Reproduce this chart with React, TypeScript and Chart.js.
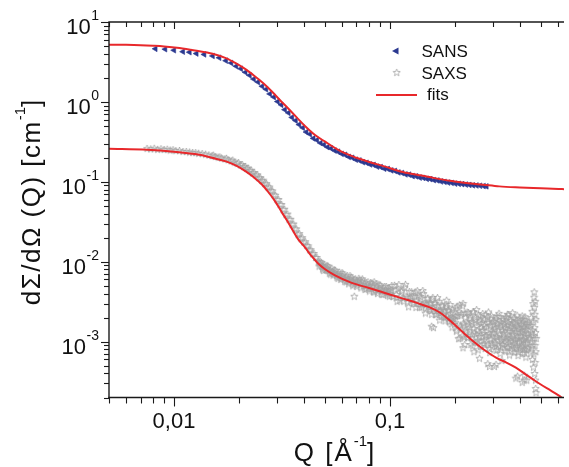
import React, { useEffect, useRef } from 'react';
import { Chart, registerables } from 'chart.js';
Chart.register(...registerables);

// ---------- data ----------
const sansQ = [0.0082,0.0091,0.0100,0.0110,0.0118,0.0127,0.0138,0.0151,0.0162,0.0174,0.0184,0.0194,0.0204,0.0214,0.0224,0.0234,0.0245,0.0256,0.0267,0.0278,0.0290,0.0302,0.0314,0.0326,0.0339,0.0352,0.0366,0.0380,0.0395,0.0410,0.0426,0.0442,0.0459,0.0477,0.0495,0.0514,0.0534,0.0555,0.0576,0.0598,0.0621,0.0645,0.0670,0.0696,0.0723,0.0751,0.0780,0.0810,0.0841,0.0873,0.0907,0.0942,0.0978,0.1016,0.1055,0.1096,0.1138,0.1182,0.1227,0.1275,0.1324,0.1375,0.1428,0.1483,0.1540,0.1600,0.1661,0.1725,0.1792,0.1861,0.1933,0.2007,0.2085,0.2165,0.2249,0.2335,0.2425,0.2519,0.2616,0.2717,0.2800];
const sansI = [4.62,4.57,4.43,4.25,4.19,4.03,3.93,3.76,3.57,3.28,3.07,2.80,2.60,2.35,2.15,1.93,1.77,1.57,1.44,1.26,1.15,1.01,0.92,0.80,0.73,0.64,0.585,0.52,0.475,0.42,0.395,0.35,0.333,0.306,0.292,0.272,0.262,0.246,0.238,0.224,0.218,0.205,0.200,0.189,0.185,0.176,0.173,0.165,0.163,0.155,0.153,0.146,0.145,0.139,0.137,0.131,0.129,0.124,0.123,0.118,0.117,0.113,0.112,0.109,0.108,0.105,0.104,0.101,0.100,0.098,0.097,0.095,0.0945,0.0935,0.0925,0.0915,0.0905,0.090,0.0893,0.0885,0.0878];

const sansFitQ = [0.005,0.006,0.007,0.008,0.009,0.0106,0.0125,0.0151,0.0175,0.0193,0.0215,0.0238,0.026,0.0284,0.031,0.0339,0.037,0.0404,0.045,0.0499,0.0594,0.07,0.0787,0.095,0.112,0.135,0.159,0.19,0.226,0.27,0.321,0.4,0.5,0.604,0.64];
const sansFitI = [5.2,5.18,5.13,5.05,4.95,4.72,4.4,4.0,3.5,3.05,2.55,2.07,1.7,1.35,1.05,0.82,0.64,0.5,0.385,0.32,0.24,0.2,0.18,0.155,0.135,0.122,0.112,0.103,0.0966,0.092,0.0877,0.085,0.083,0.0813,0.081];

const saxsFitQ = [0.005,0.0075,0.01,0.0131,0.015,0.0174,0.0195,0.0215,0.0235,0.0256,0.0275,0.0294,0.0315,0.0339,0.0357,0.0377,0.0405,0.0433,0.0465,0.0499,0.0554,0.0661,0.08,0.094,0.113,0.133,0.152,0.171,0.187,0.203,0.222,0.243,0.275,0.31,0.345,0.383,0.425,0.472,0.535,0.604,0.64];
const saxsFitI = [0.259,0.252,0.238,0.218,0.2,0.18,0.158,0.135,0.113,0.092,0.073,0.057,0.042,0.0306,0.024,0.0189,0.015,0.0118,0.0095,0.0081,0.0068,0.00548,0.0047,0.0041,0.0035,0.00306,0.0027,0.0023,0.0019,0.00156,0.00125,0.00101,0.00078,0.00063,0.00055,0.000473,0.00039,0.000322,0.00026,0.000213,0.00019];

const saxsLowQ = [0.0075,0.0078,0.0081,0.0084,0.0087,0.0090,0.0093,0.0096,0.0099,0.0102,0.0106,0.0110,0.0114,0.0118,0.0122,0.0126,0.0130,0.0135,0.0140,0.0145,0.0150,0.0155,0.0160,0.0166,0.0172,0.0178,0.0184,0.0190,0.0196,0.0203,0.0210,0.0217,0.0224,0.0231,0.0239,0.0247,0.0255,0.0263,0.0272,0.0281,0.0290,0.0300,0.0310,0.0320,0.0330,0.0341,0.0352,0.0363,0.0375,0.0387,0.0399,0.0412,0.0425,0.0438,0.0452,0.0466];
const saxsLowI = [0.262,0.258,0.263,0.255,0.259,0.254,0.256,0.250,0.252,0.246,0.247,0.240,0.240,0.236,0.233,0.232,0.228,0.226,0.222,0.217,0.213,0.208,0.204,0.199,0.194,0.189,0.183,0.177,0.171,0.163,0.155,0.147,0.139,0.130,0.122,0.113,0.104,0.096,0.087,0.078,0.069,0.060,0.052,0.045,0.039,0.034,0.0295,0.0258,0.0222,0.0198,0.0177,0.0160,0.0141,0.0126,0.0113,0.0101];

const saxsLow2Q = [0.0152,0.0163,0.0175,0.0187,0.0199,0.0207,0.0214,0.0220,0.0228,0.0235,0.0243,0.0251,0.0259,0.0268,0.0277,0.0286,0.0295,0.0305,0.0315,0.0325,0.0336,0.0347,0.0358,0.0369,0.0381,0.0393,0.0406,0.0418,0.0431,0.0445,0.0459];
const saxsLow2I = [0.216,0.205,0.197,0.187,0.174,0.165,0.156,0.149,0.140,0.131,0.123,0.113,0.105,0.095,0.086,0.077,0.068,0.060,0.052,0.0455,0.0395,0.0340,0.0297,0.0258,0.0225,0.0200,0.0178,0.0158,0.0141,0.0127,0.0113];

const saxsMidQ = [0.0472,0.0475,0.0478,0.0484,0.0490,0.0493,0.0496,0.0502,0.0508,0.0511,0.0514,0.0521,0.0528,0.0531,0.0535,0.0542,0.0549,0.0552,0.0556,0.0564,0.0572,0.0575,0.0580,0.0588,0.0596,0.0600,0.0604,0.0613,0.0622,0.0626,0.0631,0.0640,0.0649,0.0653,0.0658,0.0668,0.0678,0.0681,0.0684,0.0688,0.0698,0.0708,0.0711,0.0718,0.0729,0.0740,0.0745,0.0751,0.0762,0.0773,0.0778,0.0785,0.0797,0.0809,0.0815,0.0821,0.0833,0.0845,0.0850,0.0858,0.0871,0.0884,0.0890,0.0897,0.0911,0.0925,0.0930,0.0939,0.0953,0.0962,0.0968,0.0983,0.0993,0.0998];
const saxsMidI = [0.0096,0.0101,0.0093,0.0088,0.0089,0.0078,0.0084,0.0086,0.0080,0.0090,0.0083,0.0077,0.0079,0.0070,0.0074,0.0076,0.0071,0.0079,0.0073,0.0068,0.0070,0.0062,0.0066,0.0069,0.0063,0.0073,0.0066,0.0061,0.0064,0.0056,0.0059,0.0062,0.0057,0.0067,0.0061,0.0056,0.0059,0.0052,0.0037,0.0054,0.0058,0.0053,0.0057,0.0062,0.0052,0.0056,0.0061,0.0050,0.0054,0.0049,0.0046,0.0052,0.0047,0.0051,0.0055,0.0046,0.0050,0.0056,0.0042,0.0045,0.0049,0.0044,0.0052,0.0047,0.0043,0.0046,0.0039,0.0042,0.0045,0.0049,0.0041,0.0044,0.0037,0.0040];

const saxsMid2Q = [0.0470,0.0481,0.0487,0.0499,0.0505,0.0517,0.0524,0.0538,0.0545,0.0560,0.0568,0.0584,0.0592,0.0609,0.0617,0.0635,0.0644,0.0663,0.0673,0.0693,0.0703,0.0724,0.0734,0.0756,0.0767,0.0791,0.0803,0.0827,0.0839,0.0864,0.0877,0.0904,0.0918,0.0946,0.0975,0.0990];
const saxsMid2I = [0.0088,0.0098,0.0081,0.0092,0.0079,0.0088,0.0072,0.0083,0.0068,0.0078,0.0064,0.0074,0.0060,0.0070,0.0057,0.0067,0.0053,0.0064,0.0050,0.0061,0.0049,0.0059,0.0047,0.0058,0.0045,0.0056,0.0043,0.0054,0.0042,0.0053,0.0040,0.0051,0.0039,0.0049,0.0038,0.0047];

const saxsBandQ = [0.100,0.102,0.104,0.106,0.108,0.110,0.112,0.114,0.116,0.118,0.120,0.122,0.124,0.126,0.128,0.130,0.132,0.134,0.136,0.138,0.140,0.142,0.144,0.146,0.148,0.150,0.152,0.154,0.156,0.158,0.160,0.162,0.164,0.166,0.168,0.170,0.172,0.174,0.176,0.178,0.180,0.182,0.184,0.186,0.188,0.190,0.192,0.194,0.196,0.198];
const saxsBandI = [0.0043,0.00505,0.00368,0.00444,0.0032,0.00519,0.00365,0.00441,0.0032,0.00521,0.00359,0.00273,0.00359,0.00421,0.00307,0.00372,0.00268,0.00434,0.00306,0.00369,0.00269,0.00436,0.003,0.00228,0.00299,0.0035,0.00254,0.00307,0.0022,0.00358,0.00251,0.00302,0.00219,0.00356,0.00244,0.00186,0.00244,0.00286,0.00208,0.00251,0.00182,0.00294,0.00206,0.00249,0.0018,0.00292,0.002,0.00152,0.00198,0.00236];

const saxsBand2Q = [0.101,0.103,0.105,0.107,0.109,0.111,0.113,0.115,0.117,0.119,0.121,0.123,0.125,0.127,0.129,0.131,0.133,0.135,0.137,0.139,0.141,0.143,0.145,0.147,0.149,0.151,0.153,0.155,0.157,0.159,0.161,0.163,0.165,0.167,0.169,0.171,0.173,0.175,0.177,0.179,0.181,0.183,0.185,0.187,0.189,0.191,0.193,0.195,0.197,0.199];
const saxsBand2I = [0.00446,0.00368,0.00507,0.0039,0.00456,0.00328,0.00425,0.00353,0.00483,0.00372,0.00314,0.00424,0.00334,0.00368,0.00303,0.00419,0.00322,0.00377,0.00271,0.00351,0.00291,0.00399,0.00307,0.00258,0.00348,0.00274,0.003,0.00246,0.00339,0.00261,0.00304,0.00218,0.00282,0.00233,0.0032,0.00246,0.00207,0.00279,0.00219,0.00241,0.00199,0.00274,0.0021,0.00245,0.00176,0.00227,0.00187,0.00256,0.00196,0.00164];

const saxsCloudQ = [0.200,0.202,0.204,0.206,0.208,0.210,0.212,0.214,0.216,0.218,0.220,0.222,0.224,0.226,0.228,0.230,0.232,0.234,0.236,0.238,0.240,0.242,0.244,0.246,0.248,0.250,0.252,0.254,0.256,0.258,0.260,0.262,0.264,0.266,0.268,0.270,0.272,0.274,0.276,0.278,0.280,0.282,0.284,0.286,0.288,0.290,0.292,0.294,0.296,0.298,0.300,0.302,0.304,0.306,0.308,0.310,0.312,0.314,0.316,0.318,0.320,0.322,0.324,0.326,0.328,0.330,0.332,0.334,0.336,0.338,0.340,0.342,0.344,0.346,0.348,0.350,0.352,0.354,0.356,0.358,0.360,0.362,0.364,0.366,0.368,0.370,0.372,0.374,0.376,0.378,0.380,0.382,0.384,0.386,0.388,0.390,0.392,0.394,0.396,0.398,0.400,0.402,0.404,0.406,0.408,0.410,0.412,0.414,0.416,0.418,0.420,0.422,0.424,0.426,0.428,0.430,0.432,0.434,0.436,0.438,0.440];
const saxsCloudI = [0.0019,0.00263,0.0014,0.00212,0.00109,0.00288,0.00157,0.00225,0.00118,0.00301,0.00162,0.00092,0.002,0.00132,0.00234,0.00112,0.00165,0.00151,0.0021,0.00112,0.0017,0.00088,0.00234,0.00128,0.00186,0.00099,0.00252,0.00137,0.00079,0.00174,0.00116,0.00209,0.00102,0.00151,0.0014,0.00195,0.00104,0.00159,0.00082,0.00219,0.0012,0.00173,0.00092,0.00235,0.00127,0.00073,0.00161,0.00108,0.00194,0.00094,0.0014,0.0013,0.00182,0.00097,0.00149,0.00078,0.00207,0.00114,0.00165,0.00088,0.00226,0.00122,0.00071,0.00157,0.00105,0.0019,0.00092,0.00138,0.00128,0.00179,0.00096,0.00147,0.00076,0.00204,0.00112,0.0016,0.00085,0.00218,0.00118,0.00068,0.00152,0.00102,0.00184,0.00089,0.00134,0.00124,0.00173,0.00093,0.00142,0.00074,0.00197,0.00108,0.00157,0.00083,0.00214,0.00116,0.00067,0.00149,0.001,0.0018,0.00086,0.0013,0.0012,0.00167,0.00089,0.00137,0.00071,0.0019,0.00104,0.00151,0.0008,0.00205,0.00111,0.00064,0.00142,0.00095,0.00171,0.00083,0.00124,0.00115,0.00161];

const saxsCloud2Q = [0.201,0.203,0.205,0.207,0.209,0.211,0.213,0.215,0.217,0.219,0.221,0.223,0.225,0.227,0.229,0.231,0.233,0.235,0.237,0.239,0.241,0.243,0.245,0.247,0.249,0.251,0.253,0.255,0.257,0.259,0.261,0.263,0.265,0.267,0.269,0.271,0.273,0.275,0.277,0.279,0.281,0.283,0.285,0.287,0.289,0.291,0.293,0.295,0.297,0.299,0.301,0.303,0.305,0.307,0.309,0.311,0.313,0.315,0.317,0.319,0.321,0.323,0.325,0.327,0.329,0.331,0.333,0.335,0.337,0.339,0.341,0.343,0.345,0.347,0.349,0.351,0.353,0.355,0.357,0.359,0.361,0.363,0.365,0.367,0.369,0.371,0.373,0.375,0.377,0.379,0.381,0.383,0.385,0.387,0.389,0.391,0.393,0.395,0.397,0.399,0.401,0.403,0.405,0.407,0.409,0.411,0.413,0.415,0.417,0.419,0.421,0.423,0.425,0.427,0.429,0.431,0.433,0.435,0.437,0.439];
const saxsCloud2I = [0.00208,0.00135,0.00278,0.00165,0.00235,0.00111,0.00212,0.00144,0.0028,0.00171,0.00114,0.00228,0.00139,0.00176,0.00113,0.00231,0.00137,0.00195,0.00092,0.00178,0.00121,0.00238,0.00146,0.00099,0.002,0.00124,0.00158,0.00103,0.00215,0.00128,0.00183,0.00087,0.00168,0.00115,0.00225,0.00138,0.00094,0.00189,0.00118,0.0015,0.00097,0.00203,0.00121,0.00174,0.00082,0.00158,0.00108,0.00212,0.00131,0.00088,0.00179,0.00112,0.00143,0.00094,0.00194,0.00116,0.00168,0.0008,0.00154,0.00105,0.00207,0.00128,0.00086,0.00175,0.00109,0.0014,0.00091,0.00189,0.00113,0.00164,0.00078,0.0015,0.00103,0.00203,0.00125,0.00085,0.00173,0.00107,0.00136,0.00089,0.00186,0.00111,0.0016,0.00076,0.00148,0.001,0.00198,0.00122,0.00083,0.00168,0.00104,0.00133,0.00087,0.00182,0.00108,0.00156,0.00074,0.00144,0.00098,0.00194,0.0012,0.00082,0.00164,0.00102,0.00131,0.00085,0.00177,0.00106,0.00152,0.00073,0.0014,0.00096,0.00188,0.00116,0.00079,0.00159,0.00099,0.00127,0.00083,0.00173];

const saxsEdgeQ = [0.446,0.448,0.449,0.451,0.452,0.454,0.455,0.456,0.457,0.458,0.459,0.460,0.461,0.462,0.463,0.464,0.465,0.466,0.466,0.467,0.468,0.468,0.469,0.470,0.470,0.471,0.472,0.472,0.473,0.474,0.474,0.475,0.476,0.156,0.159,0.183,0.218,0.245,0.260,0.284,0.289,0.305,0.310,0.330,0.350,0.370,0.383,0.390,0.410,0.410,0.419,0.420,0.430];
const saxsEdgeI = [0.0011,0.0016,0.00072,0.0013,0.0020,0.00085,0.0010,0.0024,0.00060,0.0014,0.0009,0.0030,0.0012,0.00048,0.0018,0.0007,0.0036,0.0042,0.0011,0.0027,0.00040,0.0015,0.0022,0.00055,0.0009,0.0032,0.0013,0.00033,0.00026,0.0019,0.00075,0.00023,0.0011,0.00156,0.0015,0.0033,0.00084,0.00075,0.00062,0.00053,0.00049,0.00049,0.00052,0.00058,0.0022,0.0023,0.00035,0.00037,0.00031,0.0021,0.00033,0.00038,0.00033];

const yTickExps = [1, 0, -1, -2, -3];
const xTickLabels = [{ v: 0.01, t: '0,01' }, { v: 0.1, t: '0,1' }];

// ---------- helpers ----------
const RED = '#E8282B';
const BLUE = '#2B3990';
const GRAY = '#a2a2a2';
const FONT = '"Liberation Sans", Arial, sans-serif';

const pairs = (qs: number[], is: number[]) => qs.map((q, i) => ({ x: q, y: is[i] }));

function makeStar(): HTMLCanvasElement {
  const c = document.createElement('canvas');
  c.width = 9; c.height = 9;
  const g = c.getContext('2d')!;
  g.strokeStyle = GRAY; g.lineWidth = 0.8;
  g.beginPath();
  for (let i = 0; i < 10; i++) {
    const r = i % 2 === 0 ? 3.8 : 1.6;
    const a = -Math.PI / 2 + (i * Math.PI) / 5;
    const px = 4.5 + r * Math.cos(a), py = 4.8 + r * Math.sin(a);
    if (i) g.lineTo(px, py); else g.moveTo(px, py);
  }
  g.closePath(); g.stroke();
  return c;
}

function richWidth(ctx: any, parts: any[]) {
  let w = 0;
  for (const p of parts) { ctx.font = p.font; ctx.letterSpacing = p.ls || '0px'; w += ctx.measureText(p.t).width; }
  return w;
}
function drawRich(ctx: any, parts: any[], x: number, y: number) {
  let cx = x;
  ctx.textAlign = 'left';
  for (const p of parts) {
    ctx.font = p.font;
    ctx.letterSpacing = p.ls || '0px';
    ctx.fillText(p.t, cx, y + (p.dy || 0));
    cx += ctx.measureText(p.t).width;
  }
  ctx.letterSpacing = '0px';
}

function makeAxesPlugin(star: HTMLCanvasElement) {
  return {
    id: 'customAxes',
    afterDatasetsDraw(chart: any) {
      const { ctx, chartArea: a, scales } = chart;
      const xs = scales.x, ys = scales.y;
      ctx.save();
      ctx.strokeStyle = '#1a1a1a';
      ctx.lineWidth = 1.4;
      const ln = (x1: number, y1: number, x2: number, y2: number) => {
        ctx.beginPath(); ctx.moveTo(x1, y1); ctx.lineTo(x2, y2); ctx.stroke();
      };
      ln(a.left, a.top, a.left, a.bottom + 0.7);
      ln(a.left - 0.7, a.bottom, a.right, a.bottom);
      ln(a.left - 0.7, a.top, a.right, a.top);
      ctx.lineWidth = 1.1;
      for (let e = -4; e <= 1; e++) {
        for (let m = 1; m <= 9; m++) {
          const v = m * Math.pow(10, e);
          if (v < ys.min * 0.999 || v > ys.max * 1.001) continue;
          const py = Math.round(ys.getPixelForValue(v)) + 0.5;
          ln(a.left - (m === 1 ? 8 : 5), py, a.left, py);
        }
      }
      for (let e = -3; e <= 0; e++) {
        for (let m = 1; m <= 9; m++) {
          const v = m * Math.pow(10, e);
          if (v < xs.min * 0.999 || v > xs.max * 1.001) continue;
          const px = Math.round(xs.getPixelForValue(v)) + 0.5;
          ln(px, a.bottom, px, a.bottom + (m === 1 ? 9 : 6));
          ln(px, a.top, px, a.top + (m === 1 ? 7 : 5));
        }
      }
      ctx.fillStyle = '#111';
      ctx.textBaseline = 'alphabetic';
      for (const e of yTickExps) {
        const py = ys.getPixelForValue(Math.pow(10, e));
        const sup = String(e);
        ctx.font = `14px ${FONT}`;
        ctx.textAlign = 'right';
        ctx.fillText(sup, 99, py - 2);
        const sw = ctx.measureText(sup).width;
        ctx.font = `22px ${FONT}`;
        ctx.fillText('10', 99 - sw - 0.5, py + 12);
      }
      ctx.font = `22px ${FONT}`;
      ctx.textAlign = 'center';
      for (const t of xTickLabels) {
        ctx.fillText(t.t, xs.getPixelForValue(t.v), 428);
      }
      const xt = [
        { t: 'Q [Å', font: `26px ${FONT}`, ls: '2px' },
        { t: '-1', font: `15px ${FONT}`, dy: -15 },
        { t: ']', font: `26px ${FONT}` },
      ];
      const xw = richWidth(ctx, xt);
      drawRich(ctx, xt, 334 - xw / 2, 461);
      const yt = [
        { t: 'dΣ/dΩ (Q) [cm', font: `26px ${FONT}`, ls: '1.5px' },
        { t: '-1', font: `15px ${FONT}`, dy: -15 },
        { t: ']', font: `26px ${FONT}` },
      ];
      ctx.save();
      ctx.translate(40, 202.5);
      ctx.rotate(-Math.PI / 2);
      const yw = richWidth(ctx, yt);
      drawRich(ctx, yt, -yw / 2, 0);
      ctx.restore();
      // legend
      ctx.fillStyle = BLUE;
      ctx.beginPath();
      ctx.moveTo(392, 51);
      ctx.lineTo(398.5, 47.5);
      ctx.lineTo(398.5, 54.5);
      ctx.closePath();
      ctx.fill();
      ctx.drawImage(star, 396.7 - 4.5, 72.7 - 4.8);
      ctx.strokeStyle = RED;
      ctx.lineWidth = 2;
      ln(376, 95, 417, 95);
      ctx.fillStyle = '#111';
      ctx.font = `17px ${FONT}`;
      ctx.textAlign = 'left';
      ctx.fillText('SANS', 421.5, 57);
      ctx.fillText('SAXS', 421.5, 78.5);
      ctx.fillText('fits', 427, 100);
      ctx.restore();
    },
  };
}

export default function App() {
  const ref = useRef<HTMLCanvasElement>(null);
  useEffect(() => {
    const star = makeStar();
    const saxs = [
      ...pairs(saxsLowQ, saxsLowI),
      ...pairs(saxsLow2Q, saxsLow2I),
      ...pairs(saxsMidQ, saxsMidI),
      ...pairs(saxsMid2Q, saxsMid2I),
      ...pairs(saxsBandQ, saxsBandI),
      ...pairs(saxsBand2Q, saxsBand2I),
      ...pairs(saxsCloudQ, saxsCloudI),
      ...pairs(saxsCloud2Q, saxsCloud2I),
      ...pairs(saxsEdgeQ, saxsEdgeI),
    ];
    const chart = new Chart(ref.current!, {
      type: 'scatter',
      data: {
        datasets: [
          { label: 'fits', data: pairs(sansFitQ, sansFitI), showLine: true, borderColor: RED, borderWidth: 2, pointRadius: 0, cubicInterpolationMode: 'monotone', order: 0 } as any,
          { label: 'fits SAXS', data: pairs(saxsFitQ, saxsFitI), showLine: true, borderColor: RED, borderWidth: 2, pointRadius: 0, cubicInterpolationMode: 'monotone', order: 1 } as any,
          { label: 'SANS', data: pairs(sansQ, sansI), pointStyle: 'triangle', rotation: -90, pointRadius: 3.3, backgroundColor: BLUE, borderColor: BLUE, borderWidth: 0.6, order: 2 } as any,
          { label: 'SAXS', data: saxs, pointStyle: star, pointRadius: 4, order: 3 } as any,
        ],
      },
      options: {
        responsive: false,
        animation: false,
        events: [],
        layout: { padding: { left: 109, top: 22, right: 0, bottom: 69.5 } },
        plugins: { legend: { display: false }, tooltip: { enabled: false } },
        scales: {
          x: { type: 'logarithmic', min: 0.005, max: 0.64, display: false },
          y: { type: 'logarithmic', min: 0.0002, max: 10, display: false },
        },
      },
      plugins: [makeAxesPlugin(star)],
    });
    return () => chart.destroy();
  }, []);
  return (
    <div style={{ position: 'absolute', left: 0, top: 0, width: 569, height: 467, background: '#fff' }}>
      <canvas ref={ref} width={569} height={467} style={{ width: 569, height: 467, display: 'block' }} />
    </div>
  );
}
